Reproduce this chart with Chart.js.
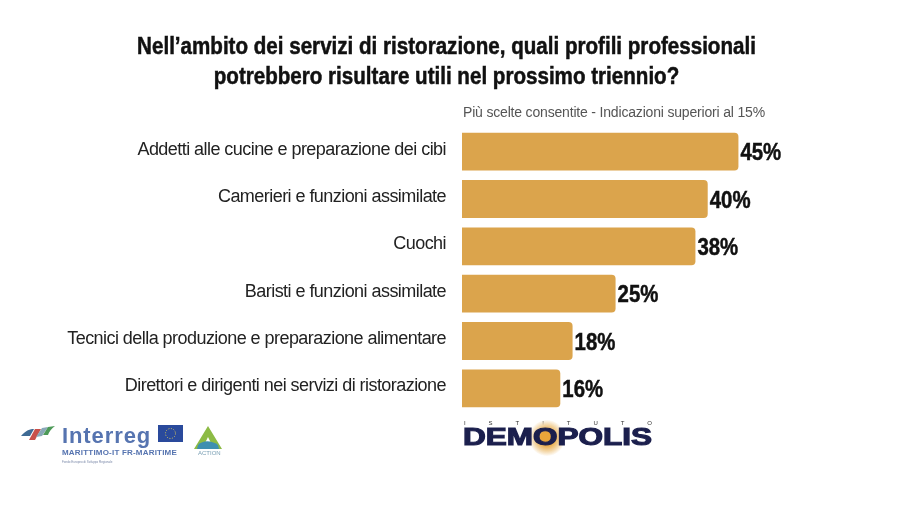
<!DOCTYPE html>
<html lang="it">
<head>
<meta charset="utf-8">
<title>Profili professionali</title>
<script src="https://cdn.jsdelivr.net/npm/chart.js@4/dist/chart.umd.min.js"></script>
<style>
    html, body { margin: 0; padding: 0; background: #fff; }
    #wrap { position: relative; width: 900px; height: 506px; overflow: hidden; font-family: "Liberation Sans", sans-serif; }
    #wrap canvas { position: absolute; left: 0; top: 0; }
    .abs { position: absolute; white-space: nowrap; line-height: 1; }
</style>
</head>
<body>
<div id="wrap">
    <canvas id="chart" width="900" height="506"></canvas>

    <!-- Interreg logo -->
    <svg class="abs" style="left:20px;top:424px" width="36" height="20" viewBox="0 0 36 20">
        <path d="M1 12 C6 6 10 5 14 5 L10 12 Z" fill="#3f6a94"/>
        <path d="M9 16 L15 5 L21 5 L15 16 Z" fill="#c9504a"/>
        <path d="M16 13 L22 4 L28 3 L22 12 Z" fill="#8aa8b8"/>
        <path d="M23 11 L28 3 L35 2 C31 5 29 8 28 11 Z" fill="#4d9a58"/>
    </svg>
    <div class="abs" style="left:62px;top:425px;font-size:22px;font-weight:bold;color:#5674b0;letter-spacing:0.9px">Interreg</div>
    <svg class="abs" style="left:158px;top:425px" width="25" height="17" viewBox="0 0 25 17">
        <rect width="25" height="17" fill="#2a4a9c"/>
        <circle cx="12.5" cy="8.5" r="5" fill="none" stroke="#d9c95a" stroke-width="1" stroke-dasharray="1 1.6"/>
    </svg>
    <div class="abs" style="left:62px;top:449px;font-size:8px;font-weight:bold;color:#5674b0;letter-spacing:0.2px">MARITTIMO-IT FR-MARITIME</div>
    <div class="abs" style="left:62px;top:461px;font-size:3px;color:#7a88a8">Fondo Europeo di Sviluppo Regionale</div>
    <svg class="abs" style="left:193px;top:426px" width="30" height="24" viewBox="0 0 30 24">
        <path d="M15 0 L29 23 L21 23 L15 11 L9 23 L1 23 Z" fill="#8dbb45"/>
        <path d="M5 19 C10 14 18 14 25 19 L26 23 L4 23 Z" fill="#3f8fb0"/>
    </svg>
    <div class="abs" style="left:198px;top:450px;font-size:6px;color:#7ba0b5">ACTION</div>

    <!-- Demopolis logo -->
    <div class="abs" style="left:464px;top:420px;width:188px;font-size:6px;color:#333;display:flex;justify-content:space-between"><span>I</span><span>S</span><span>T</span><span>I</span><span>T</span><span>U</span><span>T</span><span>O</span></div>
    <div class="abs" style="left:529px;top:420px;width:36px;height:36px;border-radius:50%;background:radial-gradient(circle, #e9a53a 0%, #e9a53a 26%, #f3d6a6 52%, rgba(255,255,255,0) 72%)"></div>
    <div class="abs" id="demopolis" style="left:463px;top:426px;font-size:23px;font-weight:bold;color:#1b1f4d;transform-origin:0 0;transform:scaleX(1.37);-webkit-text-stroke:1.1px #1b1f4d">DEMOPOLIS</div>
</div>

<script>
const categories = [
    'Addetti alle cucine e preparazione dei cibi',
    'Camerieri e funzioni assimilate',
    'Cuochi',
    'Baristi e funzioni assimilate',
    'Tecnici della produzione e preparazione alimentare',
    'Direttori e dirigenti nei servizi di ristorazione'
];
const values = [45, 40, 38, 25, 18, 16];
const titleLines = [
    'Nell\u2019ambito dei servizi di ristorazione, quali profili professionali',
    'potrebbero risultare utili nel prossimo triennio?'
];
const subtitleText = 'Più scelte consentite - Indicazioni superiori al 15%';

const textFont = '"Liberation Sans", sans-serif';

// the reference type is narrower and heavier than Liberation
function narrowText(ctx, text, x, y, squeeze) {
    ctx.save();
    ctx.translate(x, y);
    ctx.scale(squeeze, 1);
    ctx.fillText(text, 0, 0);
    ctx.strokeText(text, 0, 0);
    ctx.restore();
}

const letterFit = {
    id: 'letterFit',
    beforeDraw(chart) {
        chart.ctx.letterSpacing = '-0.55px';
    }
};

// title, note and percent labels
const barLabels = {
    id: 'barLabels',
    afterDatasetsDraw(chart) {
        const ctx = chart.ctx;
        ctx.save();
        ctx.letterSpacing = '0px';
        ctx.textBaseline = 'middle';
        ctx.strokeStyle = '#111';
        ctx.lineWidth = 0.5;

        ctx.fillStyle = '#111';
        ctx.font = 'bold 23px ' + textFont;
        ctx.textAlign = 'center';
        titleLines.forEach((line, i) => {
            narrowText(ctx, line, 446.5, 48 + i * 30, 0.895);
        });

        ctx.textAlign = 'left';
        ctx.font = 'bold 24px ' + textFont;
        chart.getDatasetMeta(0).data.forEach((bar, i) => {
            narrowText(ctx, values[i] + '%', bar.x + 2, bar.y + 2, 0.85);
        });

        ctx.letterSpacing = '-0.18px';
        ctx.fillStyle = '#555';
        ctx.font = '14px ' + textFont;
        ctx.fillText(subtitleText, chart.chartArea.left + 1, 113.5);
        ctx.restore();
    }
};

const chart = new Chart(document.getElementById('chart'), {
    type: 'bar',
    data: {
        labels: categories,
        datasets: [{
            data: values,
            backgroundColor: '#dba44c',
            borderRadius: { topRight: 4, bottomRight: 4 },
            borderSkipped: false,
            barPercentage: 0.8,
            categoryPercentage: 1
        }]
    },
    options: {
        indexAxis: 'y',
        responsive: false,
        animation: false,
        layout: { padding: { top: 128, left: 0, right: 8, bottom: 94 } },
        plugins: {
            legend: { display: false },
            tooltip: { enabled: false }
        },
        scales: {
            x: { display: false, min: 0, max: 70 },
            y: {
                grid: { display: false },
                border: { display: false },
                afterFit(scale) { scale.width = 462; },
                ticks: {
                    color: '#222',
                    padding: 8,
                    labelOffset: -2,
                    autoSkip: false,
                    font: { family: textFont, size: 18 }
                }
            }
        }
    },
    plugins: [letterFit, barLabels]
});
</script>
</body>
</html>
